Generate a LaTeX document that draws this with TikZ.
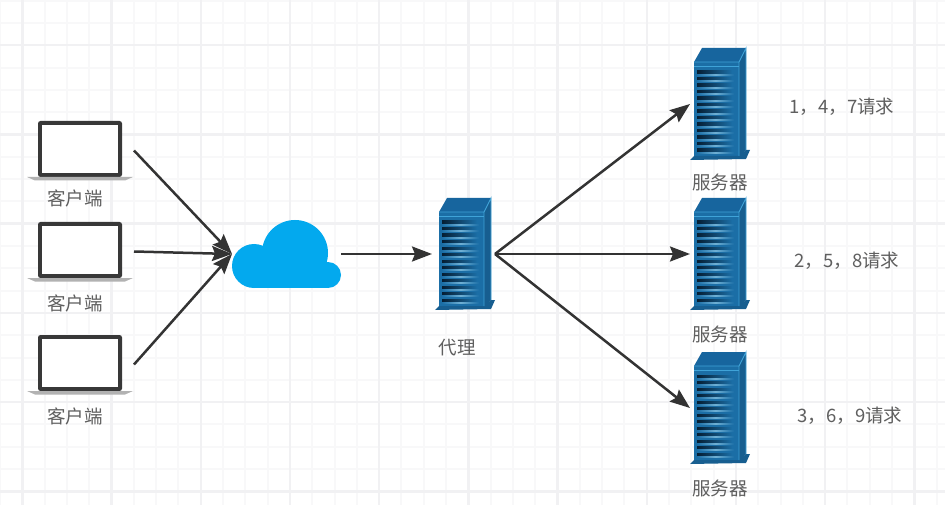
\documentclass[tikz,border=0pt]{standalone}
\usepackage{fontspec}
\setmainfont{Noto Sans CJK SC}
\usetikzlibrary{arrows.meta}
\definecolor{gridlight}{HTML}{F8F8F9}
\definecolor{gridheavy}{HTML}{F1F1F3}
\definecolor{srvfront}{HTML}{1B6EA6}
\definecolor{srvtop}{HTML}{17659E}
\definecolor{srvside}{HTML}{175E90}
\definecolor{srvedge}{HTML}{3FA3D8}
\definecolor{srvdark}{HTML}{051E33}
\definecolor{srvlite}{HTML}{6FB0D4}
\definecolor{cloudblue}{HTML}{03A9EE}
\definecolor{inkdark}{HTML}{333333}
\definecolor{labelgray}{HTML}{5F5F5F}
\tikzset{
  x=1pt,y=-1pt,
  flow/.style={draw=inkdark,line width=2.5pt,-{Stealth[length=20pt,width=15pt,inset=3pt]},shorten >=0pt},
  slot/.style={inner sep=0pt,outer sep=0pt},
  lbl/.style={text=labelgray,inner sep=0pt,font=\fontsize{18.5}{22}\selectfont},
  srvicon/.pic={
    \fill[srvtop] (-26,-42) -- (-18,-56) -- (26,-56) -- (19,-42) -- cycle;
    \fill[srvside] (19,-42) -- (26,-56) -- (26,46) -- (19,54) -- cycle;
    \fill[srvfront] (-26,-42) rectangle (19,54);
    \fill[srvside] (-30,56) -- (-26,52) -- (19,52) -- (26,46) -- (30,46) -- (26,55) -- cycle;
    \draw[srvedge,line width=.9pt] (-26,-42) -- (19,-42) -- (19,52) (19,-42) -- (26,-56) -- (26,46);
    \draw[srvedge,line width=.6pt] (-26,-38) -- (19,-38);
    \foreach \k in {0,...,12}{
      \fill[left color=srvdark,right color=srvfront] (-23,{-33+6.5*\k}) rectangle (12,{-29.8+6.5*\k});
      \fill[left color=srvfront,right color=srvfront,middle color=srvlite] (-23,{-29.6+6.5*\k}) rectangle (14,{-28.8+6.5*\k});
    }
  },
  laptopicon/.pic={
    \fill[black!78,rounded corners=2.5pt] (-42,-30) rectangle (42,26);
    \fill[white] (-38,-26) rectangle (38,22);
    \fill[black!30] (-53,26) -- (53,26) -- (45,29.5) -- (-45,29.5) -- cycle;
  }
}
\begin{document}
\begin{tikzpicture}
\useasboundingbox (0,0) rectangle (945,505);
\fill[white] (0,0) rectangle (945,505);
% grid
\foreach \i in {0,...,42}{
  \pgfmathsetmacro\gx{22.3*\i}
  \draw[gridlight,line width=2pt] (\gx,0) -- (\gx,505);
}
\foreach \i in {0,...,23}{
  \pgfmathsetmacro\gy{0.7+22.3*\i}
  \draw[gridlight,line width=2pt] (0,\gy) -- (945,\gy);
}
\foreach \i in {0,...,10}{
  \pgfmathsetmacro\gx{22.3+89.2*\i}
  \draw[gridheavy,line width=2.4pt] (\gx,0) -- (\gx,505);
}
\foreach \i in {0,...,5}{
  \pgfmathsetmacro\gy{45.3+89.2*\i}
  \draw[gridheavy,line width=2.4pt] (0,\gy) -- (945,\gy);
}
% laptops
\node[slot,minimum width=108pt,minimum height=59pt] (c1) at (80,150.5) {};
\node[slot,minimum width=108pt,minimum height=59pt] (c2) at (80,251.5) {};
\node[slot,minimum width=108pt,minimum height=59pt] (c3) at (80,364.5) {};
\pic at (80,151) {laptopicon};
\pic at (80,252) {laptopicon};
\pic at (80,365) {laptopicon};
\node[lbl] (t1) at (75,198) {客户端};
\node[lbl] (t2) at (75,303) {客户端};
\node[lbl] (t3) at (75,416) {客户端};
% cloud
\node[slot,minimum width=109pt,minimum height=68pt] (cloud) at (286.5,254) {};
\fill[cloudblue] (295,253) circle (33);
\fill[cloudblue] (254,266) circle (22);
\fill[cloudblue] (328,275) circle (13);
\fill[cloudblue] (254,262) rectangle (328,288);
% proxy + servers
\node[slot,minimum width=60pt,minimum height=112pt] (proxy) at (465,254) {};
\node[slot,minimum width=60pt,minimum height=112pt] (s1) at (720,104) {};
\node[slot,minimum width=60pt,minimum height=112pt] (s2) at (720,254) {};
\node[slot,minimum width=60pt,minimum height=112pt] (s3) at (720,408) {};
\pic at (465,254) {srvicon};
\pic at (720,104) {srvicon};
\pic at (720,254) {srvicon};
\pic at (720,408) {srvicon};
\node[lbl] (tp) at (457,348) {代理};
\node[lbl] (ts1) at (720,182) {服务器};
\node[lbl] (ts2) at (720,334) {服务器};
\node[lbl] (ts3) at (720,488) {服务器};
\node[lbl] (r1) at (842,107) {1，4，7请求};
\node[lbl] (r2) at (847,261) {2，5，8请求};
\node[lbl] (r3) at (850,416) {3，6，9请求};
% connectors
\draw[flow] (c1.east) -- (cloud.west);
\draw[flow] (c2.east) -- (cloud.west);
\draw[flow] (c3.east) -- (cloud.west);
\draw[flow,shorten >=3pt] (cloud.east) -- (proxy.west);
\draw[flow] (proxy.east) -- (s1.west);
\draw[flow] (proxy.east) -- (s2.west);
\draw[flow] (proxy.east) -- (s3.west);
\end{tikzpicture}
\end{document}
